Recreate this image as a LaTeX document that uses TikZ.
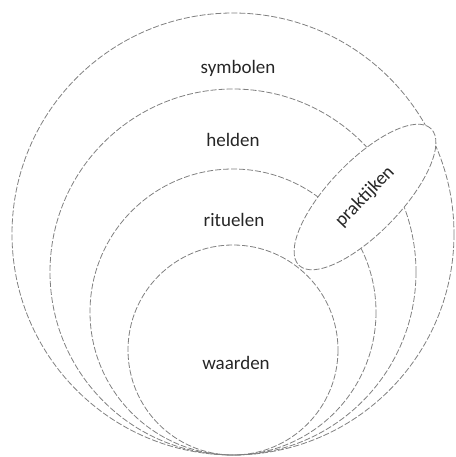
\documentclass[tikz,border=0pt]{standalone}
\usepackage{fontspec}
\setmainfont{Carlito}
\usepackage{tikz}
\usetikzlibrary{shapes.geometric,calc}
\definecolor{cLine}{HTML}{808080}

\begin{document}
\begin{tikzpicture}[
  x=1pt,y=-1pt,
  font=\fontsize{19}{22}\selectfont,
  ring/.style={draw=cLine,line width=0.8pt,dash pattern=on 6pt off 2pt},
  lbl/.style={inner sep=1pt,text=black!85}
]
\useasboundingbox (0,0) rectangle (455,457);
% all rings touch at the bottom
\coordinate (bot) at (233,455);
\draw[ring] ($(bot)+(0,-221)$) circle (221);
\draw[ring] ($(bot)+(0,-183)$) circle (183);
\draw[ring] ($(bot)+(0,-143)$) circle (143);
\draw[ring] ($(bot)+(0,-105)$) circle (105);
\node[lbl] (sym) at (238,68) {symbolen};
\node[lbl] (held) at (233,140) {helden};
\node[lbl] (rit) at (234,220) {rituelen};
\node[lbl] (waar) at (236,363) {waarden};
% practices cut across the outer layers
\node[ring,ellipse,fill=white,text=black!85,minimum width=190,minimum height=72,
      rotate=46] (prak) at (365,197) {praktijken};
\end{tikzpicture}
\end{document}
